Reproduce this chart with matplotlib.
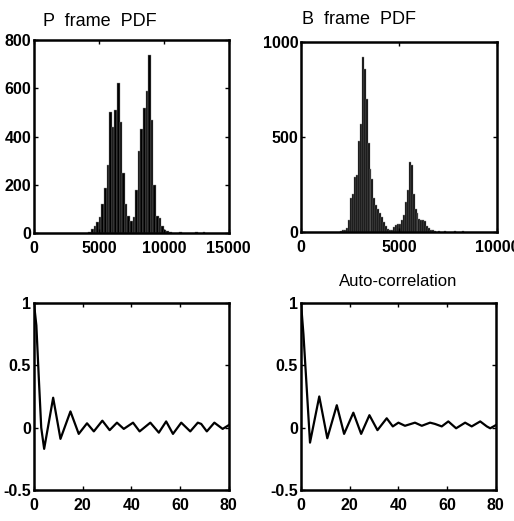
import numpy as np
import matplotlib.pyplot as plt

# P frame size histogram (bin width 200)
p_centers = [4300, 4500, 4700, 4900, 5100, 5300, 5500, 5700, 5900, 6100,
             6300, 6500, 6700, 6900, 7100, 7300, 7500, 7700, 7900, 8100,
             8300, 8500, 8700, 8900, 9100, 9300, 9500, 9700, 9900, 10100,
             10300, 10500, 11300, 12500, 13100]
p_counts = [5, 15, 30, 45, 65, 120, 185, 280, 500, 440,
            510, 620, 460, 250, 120, 70, 50, 65, 180, 340,
            430, 520, 590, 740, 470, 200, 70, 60, 30, 12,
            6, 3, 4, 3, 4]

# B frame size histogram (bin width 100)
b_centers = [2050, 2150, 2250, 2350, 2450, 2550, 2650, 2750, 2850, 2950,
             3050, 3150, 3250, 3350, 3450, 3550, 3650, 3750, 3850, 3950,
             4050, 4150, 4250, 4350, 4450, 4550, 4650, 4750, 4850, 4950,
             5050, 5150, 5250, 5350, 5450, 5550, 5650, 5750, 5850, 5950,
             6050, 6150, 6250, 6350, 6450, 6550, 6650, 6750, 6850, 7050,
             7350, 7850, 8250]
b_counts = [5, 8, 12, 20, 60, 180, 200, 290, 300, 480,
            570, 920, 860, 700, 470, 330, 280, 180, 140, 120,
            100, 80, 50, 30, 15, 10, 12, 25, 35, 40,
            40, 60, 90, 160, 220, 370, 350, 200, 120, 100,
            70, 60, 60, 55, 30, 20, 12, 8, 6, 5,
            4, 5, 3]

# auto-correlation, left panel
acf1_lag = [0, 1, 2, 3, 4.2, 7.9, 10.9, 15, 18.4, 21.8, 24.6, 28.1, 31.1, 34.1,
            36.9, 40.7, 43.4, 47.8, 51.3, 54.3, 57.1, 60.5, 64.2, 67.3, 68.7,
            71, 74.1, 77.5, 80]
acf1_val = [1.0, 0.82, 0.4, 0.0, -0.17, 0.24, -0.09, 0.13, -0.05, 0.035, -0.03,
            0.056, -0.02, 0.04, -0.01, 0.04, -0.03, 0.04, -0.04, 0.05, -0.05,
            0.04, -0.03, 0.04, 0.03, -0.03, 0.04, -0.01, 0.02]

# auto-correlation, right panel
acf2_lag = [0, 1, 2, 3.7, 7.5, 10.8, 14.7, 17.7, 21.5, 24.7, 28.1, 31.4, 35.2,
            37.7, 40, 42.7, 46.8, 49.6, 53, 55, 57.8, 60.5, 63.7, 67.4, 70.1,
            73.6, 76.3, 77.7, 80]
acf2_val = [1.0, 0.75, 0.43, -0.12, 0.25, -0.085, 0.18, -0.05, 0.12, -0.05, 0.1,
            -0.02, 0.075, 0.01, 0.04, 0.015, 0.04, 0.015, 0.04, 0.03, 0.01,
            0.05, -0.005, 0.04, 0.01, 0.05, 0.01, -0.005, 0.02]

tickfont = dict(family=['Liberation Sans', 'DejaVu Sans'], size=11.5, weight='bold')
titlefont = dict(family=['Liberation Sans', 'DejaVu Sans'], size=13)


def style(ax, xt, xl, yt, yl, xlim, ylim):
    ax.set_xlim(xlim)
    ax.set_ylim(ylim)
    ax.set_xticks(xt)
    ax.set_xticklabels(xl, fontdict=tickfont)
    ax.set_yticks(yt)
    ax.set_yticklabels(yl, fontdict=tickfont)
    ax.tick_params(direction='in', top=True, right=True, length=3, width=1)
    ax.tick_params(axis='x', pad=6)
    ax.tick_params(axis='y', pad=2)
    for s in ax.spines.values():
        s.set_linewidth(1.8)


fig = plt.figure(figsize=(5.14, 5.21), dpi=100)

ax1 = fig.add_axes([0.066, 0.553, 0.379, 0.370])
ax1.bar(p_centers, p_counts, width=200, color='black', edgecolor='0.55', linewidth=0.3)
style(ax1, [0, 5000, 10000, 15000], ['0', '5000', '10000', '15000'],
      [0, 200, 400, 600, 800], ['0', '200', '400', '600', '800'], (0, 15000), (0, 800))

ax2 = fig.add_axes([0.5856, 0.555, 0.381, 0.364])
ax2.bar(b_centers, b_counts, width=100, color='black', edgecolor='0.55', linewidth=0.3)
style(ax2, [0, 5000, 10000], ['0', '5000', '10000'],
      [0, 500, 1000], ['0', '500', '1000'], (0, 10000), (0, 1000))

ax3 = fig.add_axes([0.066, 0.0595, 0.379, 0.359])
ax3.plot(acf1_lag, acf1_val, color='black', linewidth=1.6)
style(ax3, [0, 20, 40, 60, 80], ['0', '20', '40', '60', '80'],
      [-0.5, 0, 0.5, 1], ['-0.5', '0', '0.5', '1'], (0, 80), (-0.5, 1))

ax4 = fig.add_axes([0.5856, 0.0595, 0.379, 0.359])
ax4.plot(acf2_lag, acf2_val, color='black', linewidth=1.6)
style(ax4, [0, 20, 40, 60, 80], ['0', '20', '40', '60', '80'],
      [-0.5, 0, 0.5, 1], ['-0.5', '0', '0.5', '1'], (0, 80), (-0.5, 1))

fig.text(43 / 514, 1 - 21 / 521, 'P  frame  PDF', ha='left', va='center', fontdict=titlefont)
fig.text(302 / 514, 1 - 20 / 521, 'B  frame  PDF', ha='left', va='center', fontdict=titlefont)
fig.text(398 / 514, 1 - 282 / 521, 'Auto-correlation', ha='center', va='center',
         fontdict=dict(titlefont, size=12))

fig.savefig('out.png', dpi=100)
